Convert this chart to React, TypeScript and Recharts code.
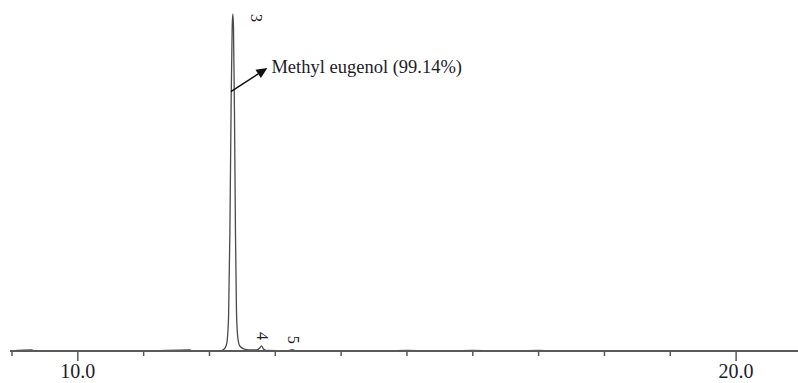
import React from "react";
import {
  ComposedChart,
  Line,
  Scatter,
  XAxis,
  YAxis,
  ReferenceLine,
} from "recharts";

// ── Data ──────────────────────────────────────────────────────────────────────

const times = [
  9.0, 9.3, 9.35, 10.0, 11.0, 11.7, 11.75, 12.15, 12.22, 12.26, 12.29, 12.31,
  12.33, 12.345, 12.355, 12.365, 12.38, 12.395, 12.41, 12.43, 12.46, 12.52,
  12.6, 12.72, 12.76, 12.79, 12.82, 12.86, 13.2, 13.26, 13.3, 14.5, 15.0,
  15.5, 16.0, 16.5, 17.0, 17.2, 20.94,
];
const intensity = [
  0, 0.3, 0, 0, 0, 0.3, 0, 0, 0.5, 2, 10, 35,
  75, 96, 100, 96, 70, 35, 12, 4, 1.5, 0.6,
  0.3, 0.3, 0.8, 1.5, 0.6, 0.2, 0.1, 0.4, 0.1, 0, 0.2,
  0, 0.2, 0, 0.2, 0, 0,
];

const peakNames = ["3", "4", "5"];
const peakTimes = [12.36, 12.79, 13.26];
const peakHeights = [100, 1.5, 0.4];

const xTicks = [9, 10, 11, 12, 13, 14, 15, 16, 17, 18, 19, 20];
const majorTicks = [10, 20];

const annotationText = "Methyl eugenol (99.14%)";
const arrowFrom = { x: 12.325, y: 77 };
const arrowTo = { x: 12.88, y: 84 };

const C = {
  trace: "#4a4a4a",
  axis: "#5a5a5a",
  text: "#1c1c28",
};
const FONT = "'Liberation Serif', 'Times New Roman', 'DejaVu Serif', serif";

const chartData = times.map((t, i) => ({ t, v: intensity[i] }));
const peakData = peakNames.map((n, i) => ({ t: peakTimes[i], v: peakHeights[i], name: n }));

// ── Sub-components ────────────────────────────────────────────────────────────

function AxisTick(props: any) {
  const { x, y, payload } = props;
  const major = majorTicks.includes(payload.value);
  return (
    <g>
      <line x1={x} y1={y} x2={x} y2={y + (major ? 10 : 5)} stroke={C.axis} strokeWidth={1.5} />
      {major && (
        <text x={x} y={y + 27} textAnchor="middle" fontSize={20} fill={C.text}>
          {payload.value.toFixed(1)}
        </text>
      )}
    </g>
  );
}

function PeakLabel(props: any) {
  const { cx, cy, payload } = props;
  const big = payload.v > 50;
  const lx = big ? cx + 23 : cx + 1;
  const ly = big ? cy + 4 : cy - 10;
  return (
    <text
      x={lx}
      y={ly}
      transform={`rotate(90 ${lx} ${ly})`}
      fontSize={16}
      fill={C.text}
      textAnchor="middle"
      dominantBaseline="central"
    >
      {payload.name}
    </text>
  );
}

function ArrowShape(props: any) {
  const { x1, y1, x2, y2 } = props;
  const ang = Math.atan2(y2 - y1, x2 - x1);
  const len = 11;
  const w = 5;
  const bx = x2 - len * Math.cos(ang);
  const by = y2 - len * Math.sin(ang);
  const px = -Math.sin(ang) * w;
  const py = Math.cos(ang) * w;
  return (
    <g>
      <line x1={x1} y1={y1} x2={bx} y2={by} stroke="#111" strokeWidth={1.5} />
      <polygon points={`${x2},${y2} ${bx + px},${by + py} ${bx - px},${by - py}`} fill="#111" />
      <text x={x2 + 4} y={y2 + 5} fontSize={18.5} fill={C.text}>
        {annotationText}
      </text>
    </g>
  );
}

// ── Component ─────────────────────────────────────────────────────────────────

export default function App() {
  return (
    <div
      style={{
        position: "absolute",
        left: 0,
        top: 0,
        width: 798,
        height: 383,
        background: "#fff",
        fontFamily: FONT,
      }}
    >
      <ComposedChart
        width={798}
        height={383}
        data={chartData}
        margin={{ top: 14, right: 0, bottom: 0, left: 10 }}
        style={{ fontFamily: FONT }}
      >
        <XAxis
          dataKey="t"
          type="number"
          domain={[8.97, 20.94]}
          ticks={xTicks}
          tick={<AxisTick />}
          tickLine={false}
          tickSize={0}
          tickMargin={0}
          axisLine={{ stroke: C.axis, strokeWidth: 2 }}
          height={32}
          allowDataOverflow
        />
        <YAxis type="number" domain={[0, 100]} hide />
        <Line
          type="monotone"
          dataKey="v"
          stroke={C.trace}
          strokeWidth={1.3}
          dot={false}
          isAnimationActive={false}
        />
        <Scatter
          data={peakData}
          dataKey="v"
          shape={<PeakLabel />}
          isAnimationActive={false}
        />
        <ReferenceLine
          segment={[arrowFrom, arrowTo]}
          shape={<ArrowShape />}
          ifOverflow="visible"
        />
      </ComposedChart>
    </div>
  );
}
